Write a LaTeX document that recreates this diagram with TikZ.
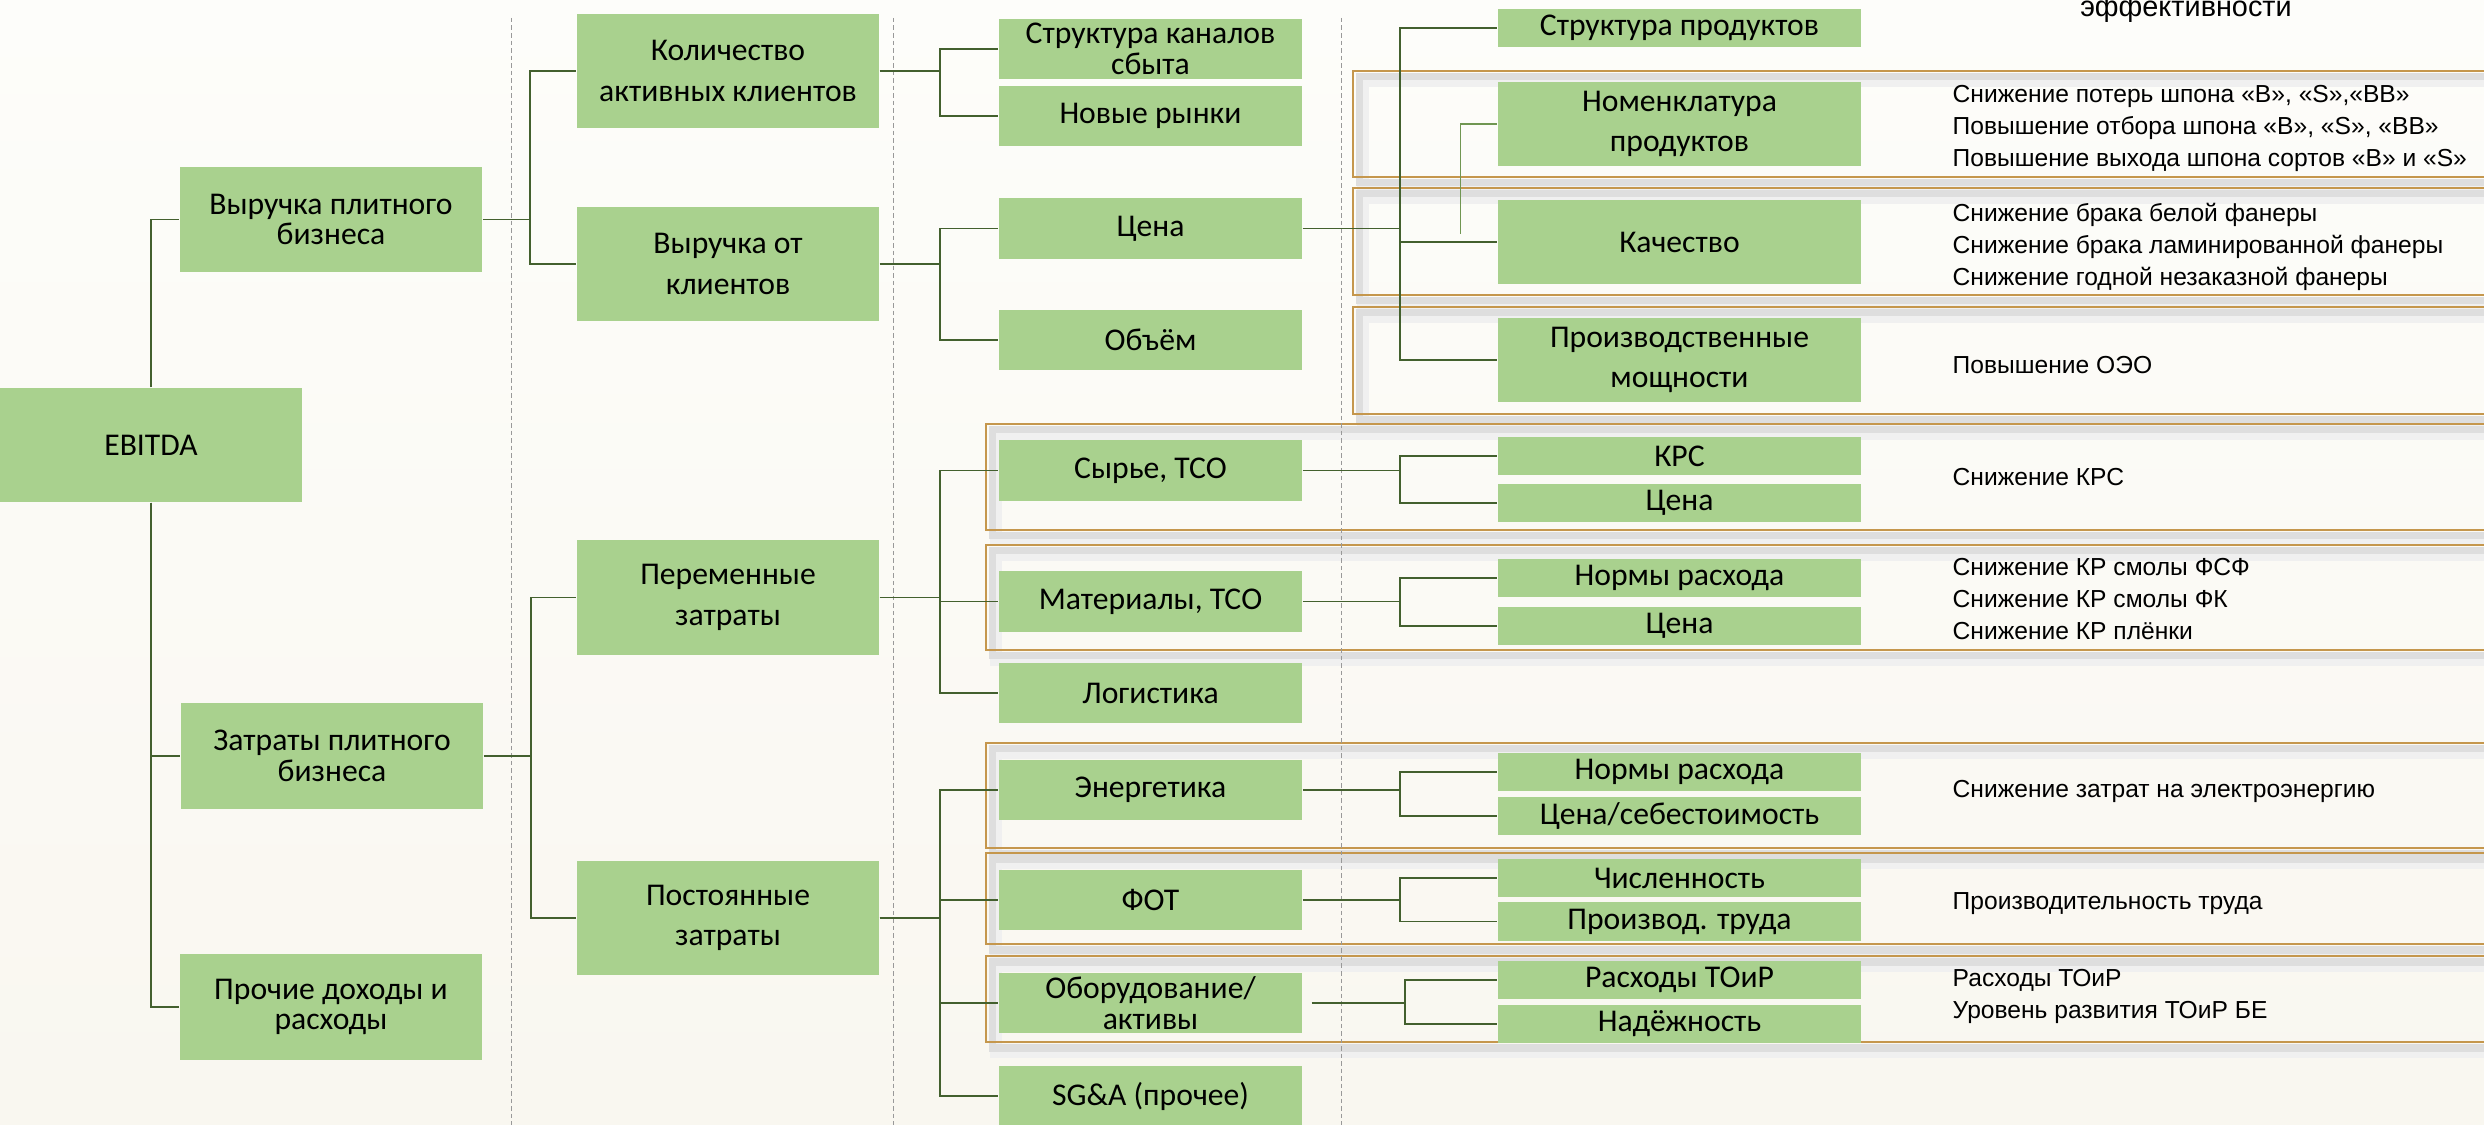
\documentclass[tikz,border=0pt]{standalone}
\usepackage{fontspec}
\newfontfamily\boxfont{Carlito}
\newfontfamily\notefont{Liberation Sans}
\definecolor{boxgreen}{RGB}{169,209,142}
\definecolor{linkgreen}{RGB}{67,96,46}
\definecolor{sublinkgreen}{RGB}{112,150,82}
\definecolor{framegold}{RGB}{197,151,77}
\definecolor{bgtop}{RGB}{253,253,250}
\definecolor{bgbottom}{RGB}{249,247,240}

\begin{document}
\begin{tikzpicture}[x=0.01cm, y=-0.01cm,
    box/.style={fill=boxgreen, inner sep=0pt, align=center, font=\boxfont\fontsize{9}{11.5}\selectfont},
    tightbox/.style={box, font=\boxfont\fontsize{9}{8.7}\selectfont},
    lvlone/.style={minimum width=3.02cm, minimum height=1.05cm},
    lvltwo/.style={minimum width=3.02cm, minimum height=1.14cm},
    lvlthree/.style={minimum width=3.03cm, minimum height=0.60cm},
    lvlfour/.style={minimum width=3.63cm, minimum height=0.84cm},
    lvlfoursmall/.style={minimum width=3.63cm, minimum height=0.38cm},
    link/.style={draw=linkgreen, line width=0.015cm},
    sublink/.style={draw=sublinkgreen, line width=0.012cm},
    sepline/.style={draw=black!40, line width=0.01cm, dash pattern=on 0.045cm off 0.03cm},
    grpframe/.style={draw=framegold, line width=0.02cm},
    grpshadow/.style={draw=black!13, line width=0.07cm},
    note/.style={inner sep=0pt, align=left, anchor=west, font=\notefont\fontsize{7}{9.1}\selectfont}]

    \useasboundingbox (0,0) rectangle (2484,1125);
    \fill[top color=bgtop, bottom color=bgbottom] (0,0) rectangle (2484,1125);

    \foreach \l/\t/\b in {1353/71/177,1353/188/295,1353/307/414,986/424/530,986/545/650,986/743/848,986/853/944,986/956/1042} {
        \draw[grpshadow, draw=black!6, line width=0.12cm] (\l+10,\t+10) rectangle (2520,\b+10);
        \draw[grpshadow] (\l+6,\t+6) rectangle (2520,\b+6);
        \draw[grpframe] (\l,\t) rectangle (2520,\b);
    }
    \foreach \x in {511,893,1341} {
        \draw[sepline] (\x,18) -- (\x,1125);
    }

    \node[box, minimum width=3.02cm, minimum height=1.14cm] (ebitda) at (151,445) {EBITDA};
    \node[tightbox, lvlone] (rev) at (331,219.5) {Выручка плитного\\бизнеса};
    \node[tightbox, lvlone] (cost) at (332,756) {Затраты плитного\\бизнеса};
    \node[tightbox, lvlone] (other) at (331,1007) {Прочие доходы и\\расходы};

    \node[box, lvltwo] (clients) at (728,71) {Количество\\активных клиентов};
    \node[box, lvltwo] (revcl) at (728,264) {Выручка от\\клиентов};
    \node[box, lvltwo] (var) at (728,597.5) {Переменные\\затраты};
    \node[box, lvltwo] (fix) at (728,918) {Постоянные\\затраты};

    \foreach \n/\y/\t in {chan/49/{Структура каналов\\сбыта}, mkt/116/{Новые рынки}, price/228.5/{Цена}, vol/340/{Объём},
        raw/470.5/{Сырье, ТСО}, mat/601.5/{Материалы, ТСО}, logi/693/{Логистика}, energy/790/{Энергетика},
        pay/900/{ФОТ}, equip/1003/{Оборудование/\\активы}, sga/1096/{SG\&A (прочее)}} {
        \node[tightbox, lvlthree] (\n) at (1150.5,\y) {\t};
    }

    \node[box, lvlfour] (nom) at (1679.5,124) {Номенклатура\\продуктов};
    \node[box, lvlfour] (qual) at (1679.5,242) {Качество};
    \node[box, lvlfour] (cap) at (1679.5,360) {Производственные\\мощности};
    \foreach \n/\y/\t in {prodstr/28/{Структура продуктов}, krs/456/{КРС}, kprice/503/{Цена}, mnorm/578/{Нормы расхода},
        mprice/626/{Цена}, enorm/772/{Нормы расхода}, eprice/816/{Цена/себестоимость}, staff/878/{Численность},
        prod/921.5/{Производ. труда}, repair/980/{Расходы ТОиР}, rel/1024/{Надёжность}} {
        \node[box, lvlfoursmall] (\n) at (1679.5,\y) {\t};
    }

    \draw[link] (ebitda.north) |- (rev.west);
    \draw[link] (ebitda.south) |- (cost.west);
    \draw[link] (ebitda.south) |- (other.west);
    \foreach \p/\c/\d in {rev/clients/47, rev/revcl/47, cost/var/47, cost/fix/47,
        clients/chan/60, clients/mkt/60, revcl/price/60, revcl/vol/60,
        var/raw/60, var/mat/60, var/logi/60, fix/energy/60, fix/pay/60, fix/equip/60, fix/sga/60,
        price/prodstr/97, price/qual/97, price/cap/97, raw/krs/97, raw/kprice/97,
        mat/mnorm/97, mat/mprice/97, energy/enorm/97, energy/eprice/97, pay/staff/97, pay/prod/97} {
        \draw[link] (\p.east) -- ++(\d,0) |- (\c.west);
    }
    \draw[link] ([xshift=0.09cm]equip.east) -- ++(93,0) |- (repair.west);
    \draw[link] ([xshift=0.09cm]equip.east) -- ++(93,0) |- (rel.west);
    \draw[sublink] (nom.west) -- ++(-37,0) -- ++(0,110);

    \node[inner sep=0pt, anchor=base, font=\notefont\fontsize{8.2}{10}\selectfont] (ttl) at (2186,17) {эффективности};
    \foreach \y/\t [count=\i] in {128/{Снижение потерь шпона «B», «S»,«BB»\\Повышение отбора шпона «B», «S», «BB»\\Повышение выхода шпона сортов «B» и «S»},
        246.5/{Снижение брака белой фанеры\\Снижение брака ламинированной фанеры\\Снижение годной незаказной фанеры},
        365/{Повышение ОЭО}, 477/{Снижение КРС},
        599.5/{Снижение КР смолы ФСФ\\Снижение КР смолы ФК\\Снижение КР плёнки},
        791/{Снижение затрат на электроэнергию}, 904/{Производительность труда},
        996/{Расходы ТОиР\\Уровень развития ТОиР БЕ}} {
        \node[note] (note\i) at (1952,\y) {\t};
    }
\end{tikzpicture}
\end{document}
